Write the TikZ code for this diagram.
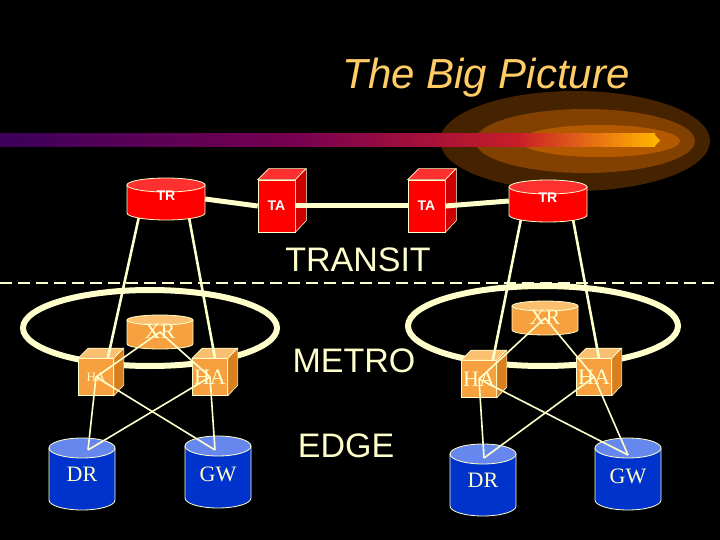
\documentclass[tikz,border=0pt]{standalone}
\usepackage{fontspec}
\setmainfont{Liberation Serif}
\setsansfont{Liberation Sans}
\definecolor{cream}{HTML}{FFFFCC}
\definecolor{titlec}{HTML}{FFCC66}
\definecolor{redf}{HTML}{FF0000}
\definecolor{redd}{HTML}{CC0000}
\definecolor{redt}{HTML}{FF3030}
\definecolor{orf}{HTML}{F7A040}
\definecolor{ord}{HTML}{D88020}
\definecolor{ort}{HTML}{FAC070}
\definecolor{bluef}{HTML}{0033CC}
\definecolor{bluet}{HTML}{6688EE}
\definecolor{barA}{RGB}{60,0,90}
\definecolor{barB}{RGB}{120,0,80}
\definecolor{barC}{RGB}{200,30,40}
\definecolor{barD}{RGB}{255,180,0}
\tikzset{
 big/.style={text=cream, font=\sffamily\fontsize{34}{34}\selectfont},
 thin/.style={cream, line width=1.6pt},
 mid/.style={cream, line width=2.6pt},
 lbl/.style={text=cream, font=\fontsize{22}{22}\selectfont},
 trl/.style={text=white, font=\sffamily\bfseries\fontsize{14}{14}\selectfont},
}
% \mycyl{name}{x}{y}{w/2}{h/2}{ry}{body}{top}
\newcommand\mycyl[8]{%
 \filldraw[draw=cream, line width=0.8pt, fill=#7] (#2-#4,#3-#5) -- (#2-#4,#3+#5) arc[start angle=180, end angle=0, x radius=#4, y radius=#6] -- (#2+#4,#3-#5) -- cycle;
 \filldraw[draw=cream, line width=0.8pt, fill=#8] (#2,#3-#5) ellipse (#4 and #6);
 \node[minimum width=2*#4 pt, minimum height=2*#5 pt, inner sep=0pt] (#1) at (#2,#3) {};
}
\newcommand\mycube[9]{%
 \node[draw=cream, line width=0.6pt, fill=#4, minimum width=#7pt, minimum height=#8pt, inner sep=0pt, text=#9, font=\sffamily\bfseries\fontsize{14}{14}\selectfont] (#1) at (#2) {#3};
 \filldraw[draw=cream, line width=0.6pt, fill=#5] (#1.north east) -- ++(11,-11) -- ++(0,#8) -- (#1.south east) -- cycle;
 \filldraw[draw=cream, line width=0.6pt, fill=#6] (#1.north west) -- ++(11,-11) -- ++(#7,0) -- (#1.north east) -- cycle;
}
\newcommand\mycubeO[4]{%
 \node[draw=cream, line width=0.6pt, fill=orf, minimum width=35pt, minimum height=37pt, inner sep=0pt, text=cream, font=\fontsize{#4}{#4}\selectfont] (#1) at (#2) {#3};
 \filldraw[draw=cream, line width=0.6pt, fill=ord] (#1.north east) -- ++(10,-10) -- ++(0,37) -- (#1.south east) -- cycle;
 \filldraw[draw=cream, line width=0.6pt, fill=ort] (#1.north west) -- ++(10,-10) -- ++(35,0) -- (#1.north east) -- cycle;
}
\begin{document}
\begin{tikzpicture}[x=1pt,y=-1pt]
\fill[black] (0,0) rectangle (720,540);
\useasboundingbox (0,0) rectangle (720,540);
% glow
\fill[orange!60!black, opacity=0.45] (575,141) ellipse (135 and 50);
\fill[orange!75!black, opacity=0.5] (585,141) ellipse (110 and 32);
\fill[orange!90!black, opacity=0.5] (600,141) ellipse (80 and 16);
% bar
\shade[left color=barA, right color=barB] (0,134) rectangle (300,147);
\shade[left color=barB, right color=barC] (299,134) rectangle (520,147);
\shade[left color=barC, right color=barD] (519,134) rectangle (655,147);
\fill[barD] (654,134) -- (660,140.5) -- (654,147) -- cycle;
\node[text=titlec, font=\sffamily\itshape\fontsize{42}{42}\selectfont] (title) at (486,78) {The Big Picture};
% ellipses
\draw[cream, line width=6pt] (150,328) ellipse (127 and 38);
\draw[cream, line width=6pt] (543,326) ellipse (135 and 40);
\draw[cream, line width=2pt, dash pattern=on 12pt off 6pt] (0,283) -- (720,283);
% transit
\coordinate (t1) at (140,212);
\coordinate (t2) at (188,212);
\coordinate (t3) at (522,214);
\coordinate (t4) at (572,214);
\mycubeO{ha1}{96,377}{HA}{13}
\mycubeO{ha2}{210,377}{HA}{22}
\mycubeO{ha3}{479,379}{HA}{22}
\mycubeO{ha4}{594,377}{HA}{22}
\draw[mid] (t1) -- ([xshift=-6pt]ha1.north east);
\draw[mid] (t2) -- ([xshift=5pt]ha2.north);
\draw[mid] (t3) -- ([xshift=-4pt]ha3.north east);
\draw[mid] (t4) -- ([xshift=5pt]ha4.north);
\mycyl{trl}{166}{199}{39}{14}{7}{redf}{redt}
\mycyl{trr}{548}{201}{39}{14}{7}{redf}{redt}
\node[trl] at ([yshift=3pt]trl.center) {TR};
\node[trl] at ([yshift=3pt]trr.center) {TR};
\mycube{ta1}{276.5,206}{TA}{redf}{redd}{redt}{37}{52}{white}
\mycube{ta2}{426.5,206}{TA}{redf}{redd}{redt}{37}{52}{white}
\draw[cream, line width=5pt] (trl.east) -- (ta1.west);
\draw[cream, line width=5pt] (ta1.east) -- (ta2.west);
\draw[cream, line width=5pt] (ta2.east) -- (trr.west);
% metro
\mycyl{xrl}{160}{332}{33}{12}{5}{orf}{ort}
\mycyl{xrr}{545}{318}{33}{12}{5}{orf}{ort}
\node[lbl] at ([yshift=1pt]xrl.center) {XR};
\node[lbl] at ([yshift=1pt]xrr.center) {XR};
% edge
\mycyl{drl}{82}{474}{33}{26}{10}{bluef}{bluet}
\mycyl{gwl}{218}{472}{33}{26}{10}{bluef}{bluet}
\mycyl{drr}{483}{480}{33}{26}{10}{bluef}{bluet}
\mycyl{gwr}{628}{474}{33}{26}{10}{bluef}{bluet}
\node[lbl] at ([yshift=0pt]drl.center) {DR};
\node[lbl] at ([yshift=-2pt]gwl.center) {GW};
\node[lbl] at ([yshift=0pt]drr.center) {DR};
\node[lbl] at ([yshift=-2pt]gwr.center) {GW};
\coordinate (cdl) at (88,450);
\coordinate (cgl) at (215,450);
\coordinate (cdr) at (484,458);
\coordinate (cgr) at (628,455);
\draw[thin] (xrl.center) -- (ha1.center);
\draw[thin] (xrl.center) -- (ha2.center);
\draw[thin] (xrr.center) -- (ha3.center);
\draw[thin] (xrr.center) -- (ha4.center);
\draw[thin] (ha1.center) -- (cdl);
\draw[thin] (ha1.center) -- (cgl);
\draw[thin] (ha2.center) -- (cdl);
\draw[thin] (ha2.center) -- (cgl);
\draw[thin] (ha3.center) -- (cdr);
\draw[thin] (ha3.center) -- (cgr);
\draw[thin] (ha4.center) -- (cdr);
\draw[thin] (ha4.center) -- (cgr);
\node[big] (transit) at (358,260) {TRANSIT};
\node[big] (metro) at (354,361) {METRO};
\node[big] (edge) at (346,446) {EDGE};
\end{tikzpicture}
\end{document}
